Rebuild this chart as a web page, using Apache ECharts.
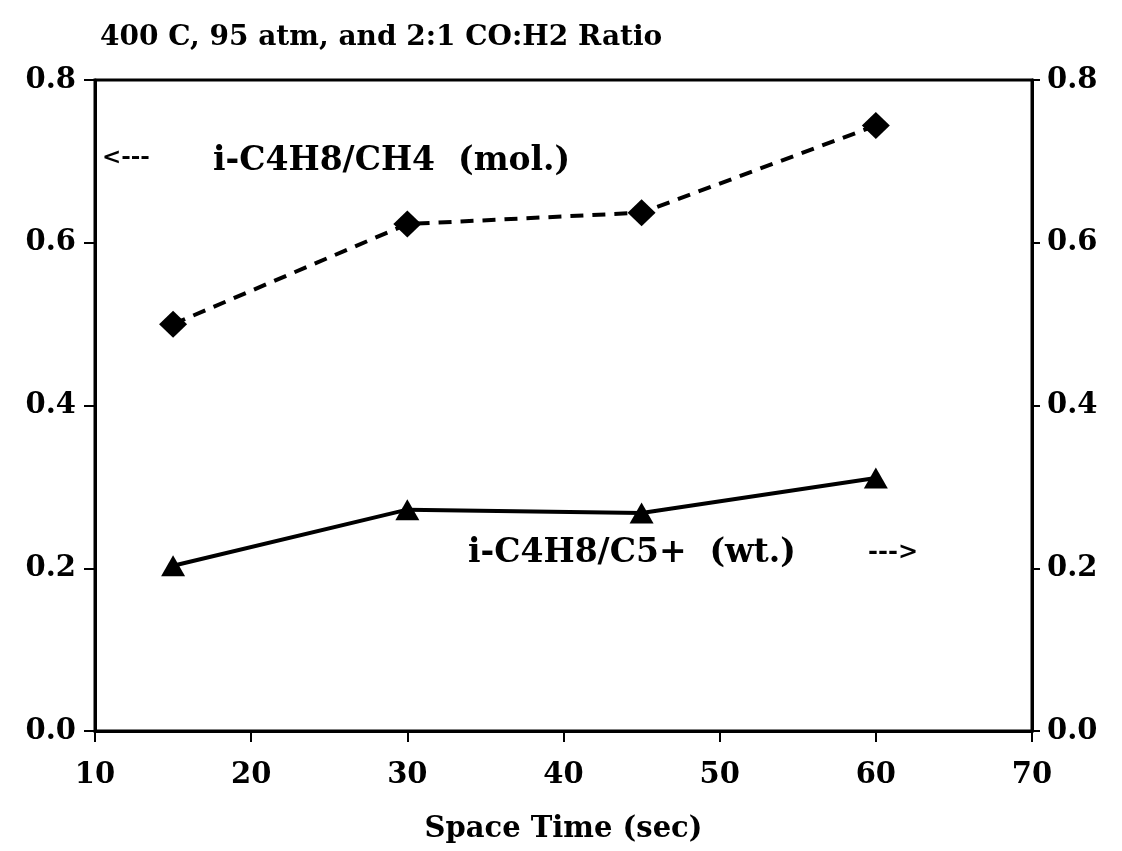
<!DOCTYPE html>
<html>
<head>
<meta charset="utf-8">
<title>Space Time</title>
<script src="https://cdn.jsdelivr.net/npm/echarts@6/dist/echarts.min.js"></script>
<style>
  html, body { margin: 0; padding: 0; background: #fff; }
  #chart { width: 1122px; height: 851px; }
</style>
</head>
<body>
<div id="chart"></div>
<script>
// data
var spaceTime = [15, 30, 45, 60]
var molRatio = [0.50, 0.623, 0.637, 0.744] // i-C4H8/CH4 (mol.)
var wtRatio = [0.203, 0.272, 0.268, 0.311] // i-C4H8/C5+ (wt.)
var xTicks = [10, 20, 30, 40, 50, 60, 70]
var yTicks = [0.0, 0.2, 0.4, 0.6, 0.8]

var FONT = 'DejaVu Serif'

function pairs(xs, ys) {
  return xs.map(function (x, i) { return [x, ys[i]] })
}

var axisText = {
  color: '#000',
  fontFamily: FONT,
  fontWeight: 'bold',
  fontSize: 29
}

function yAxisCfg(pos, margin, tickLen) {
  return {
    type: 'value',
    position: pos,
    min: yTicks[0],
    max: yTicks[yTicks.length - 1],
    interval: 0.2,
    splitLine: { show: false },
    axisLine: { show: true, lineStyle: { color: '#000', width: 3 } },
    axisTick: { show: true, inside: false, length: tickLen, lineStyle: { color: '#000', width: 2 } },
    axisLabel: Object.assign({ margin: margin, formatter: function (v) { return v.toFixed(1) } }, axisText)
  }
}

var myChart = echarts.init(document.getElementById('chart'))
myChart.setOption({
  backgroundColor: '#fff',
  animation: false,
  title: {
    text: '400 C, 95 atm, and 2:1 CO:H2 Ratio',
    left: 95,
    top: 19,
    textStyle: { color: '#000', fontFamily: FONT, fontWeight: 'bold', fontSize: 28 }
  },
  grid: {
    left: 95,
    right: 90,
    top: 80,
    bottom: 120,
    show: true,
    borderColor: '#000',
    borderWidth: 3
  },
  xAxis: {
    type: 'value',
    min: xTicks[0],
    max: xTicks[xTicks.length - 1],
    interval: 10,
    name: 'Space Time (sec)',
    nameLocation: 'middle',
    nameGap: 84,
    nameTextStyle: { color: '#000', fontFamily: FONT, fontWeight: 'bold', fontSize: 29 },
    splitLine: { show: false },
    axisLine: { show: true, lineStyle: { color: '#000', width: 3 } },
    axisTick: { show: true, inside: false, length: 11, lineStyle: { color: '#000', width: 2 } },
    axisLabel: Object.assign({ margin: 30 }, axisText)
  },
  yAxis: [yAxisCfg('left', 19, 11), yAxisCfg('right', 15, 8)],
  series: [
    {
      name: 'i-C4H8/CH4 (mol.)',
      type: 'line',
      data: pairs(spaceTime, molRatio),
      symbol: 'diamond',
      symbolSize: [28, 27],
      itemStyle: { color: '#000' },
      lineStyle: { color: '#000', width: 4, type: [13, 9] }
    },
    {
      name: 'i-C4H8/C5+ (wt.)',
      type: 'line',
      data: pairs(spaceTime, wtRatio),
      symbol: 'triangle',
      symbolSize: [24, 21],
      itemStyle: { color: '#000' },
      lineStyle: { color: '#000', width: 4, type: 'solid' }
    }
  ],
  graphic: [
    {
      type: 'text', left: 102, top: 147,
      style: { text: '<---', fill: '#000', font: 'bold 23px "DejaVu Serif"' }
    },
    {
      type: 'text', left: 213, top: 145,
      style: { text: 'i-C4H8/CH4  (mol.)', fill: '#000', font: 'bold 33px "DejaVu Serif"' }
    },
    {
      type: 'text', left: 468, top: 537,
      style: { text: 'i-C4H8/C5+  (wt.)', fill: '#000', font: 'bold 33px "DejaVu Serif"' }
    },
    {
      type: 'text', left: 868, top: 541,
      style: { text: '--->', fill: '#000', font: 'bold 24px "DejaVu Serif"' }
    }
  ]
})
</script>
</body>
</html>
